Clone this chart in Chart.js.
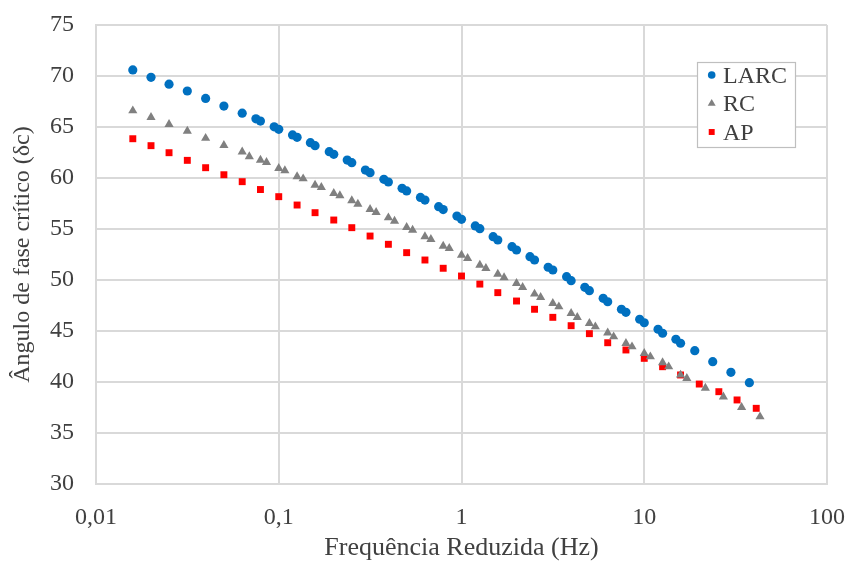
<!DOCTYPE html>
<html>
<head>
<meta charset="utf-8">
<script src="https://cdn.jsdelivr.net/npm/chart.js@4/dist/chart.umd.min.js"></script>
<style>
  html, body { margin: 0; padding: 0; background: #ffffff; }
  #wrap { position: relative; width: 846px; height: 561px; }
</style>
</head>
<body>
<div id="wrap"><canvas id="c"></canvas></div>
<script>
// ---- Data ----
const larcFreq = [0.0159, 0.02, 0.0251, 0.0316, 0.0398, 0.0501, 0.0631, 0.075, 0.0794, 0.0944, 0.1,
  0.119, 0.126, 0.149, 0.158, 0.189, 0.2, 0.237, 0.251, 0.298, 0.316, 0.376, 0.398, 0.473, 0.501,
  0.596, 0.631, 0.75, 0.794, 0.944, 1, 1.19, 1.26, 1.49, 1.58, 1.89, 2, 2.37, 2.51, 2.98, 3.16,
  3.76, 3.98, 4.73, 5.01, 5.96, 6.31, 7.5, 7.94, 9.44, 10, 11.9, 12.6, 14.9, 15.8, 18.9, 23.7, 29.8, 37.6];
const larcAngle = [70.6, 69.87, 69.2, 68.53, 67.8, 67.05, 66.36, 65.8, 65.58, 65.02, 64.77,
  64.22, 63.99, 63.46, 63.17, 62.58, 62.32, 61.76, 61.5, 60.78, 60.52, 59.87, 59.61, 58.99, 58.73,
  58.1, 57.84, 57.19, 56.9, 56.27, 55.95, 55.3, 55.03, 54.25, 53.92, 53.27, 52.94, 52.29, 51.96, 51.25, 50.98,
  50.33, 49.93, 49.28, 48.95, 48.2, 47.87, 47.13, 46.83, 46.15, 45.81, 45.17, 44.78, 44.19, 43.8, 43.07, 41.99, 40.95, 39.93];

const rcFreq = [0.0159, 0.02, 0.0251, 0.0316, 0.0398, 0.0501, 0.0631, 0.069, 0.0794, 0.0857, 0.1,
  0.108, 0.126, 0.136, 0.158, 0.171, 0.2, 0.216, 0.251, 0.271, 0.316, 0.341, 0.398, 0.43, 0.501,
  0.54, 0.631, 0.68, 0.794, 0.857, 1, 1.08, 1.26, 1.36, 1.58, 1.71, 2, 2.16, 2.51, 2.71, 3.16,
  3.41, 3.98, 4.3, 5.01, 5.4, 6.31, 6.8, 7.94, 8.57, 10, 10.8, 12.6, 13.6, 15.8, 17.1, 21.6, 27.1, 34.1, 43];
const rcAngle = [66.6, 65.95, 65.26, 64.6, 63.9, 63.2, 62.57, 62.1, 61.76, 61.53, 60.94,
  60.72, 60.13, 59.93, 59.31, 59.09, 58.5, 58.27, 57.78, 57.45, 56.93, 56.64, 56.11, 55.78, 55.17,
  54.9, 54.25, 53.99, 53.33, 53.1, 52.45, 52.13, 51.47, 51.15, 50.59, 50.23, 49.67, 49.28, 48.63, 48.3, 47.71,
  47.38, 46.73, 46.34, 45.75, 45.42, 44.83, 44.44, 43.79, 43.46, 42.81, 42.48, 41.9, 41.5, 40.69, 40.36, 39.4, 38.54, 37.52, 36.6];

const apFreq = [0.0159, 0.02, 0.0251, 0.0316, 0.0398, 0.0501, 0.0631, 0.0794, 0.1, 0.126, 0.158,
  0.2, 0.251, 0.316, 0.398, 0.501, 0.631, 0.794, 1, 1.26, 1.58, 2, 2.51, 3.16, 3.98, 5.01,
  6.31, 7.94, 10, 12.6, 15.8, 20, 25.6, 32.2, 41];
const apAngle = [63.85, 63.17, 62.48, 61.73, 61.01, 60.32, 59.64, 58.87, 58.17, 57.35, 56.6,
  55.88, 55.13, 54.31, 53.5, 52.68, 51.96, 51.15, 50.39, 49.6, 48.76, 47.94, 47.13, 46.34, 45.52, 44.74,
  43.85, 43.14, 42.32, 41.5, 40.69, 39.8, 39.05, 38.24, 37.42];

const seriesNames = ['LARC', 'RC', 'AP'];
const xTickValues = [0.01, 0.1, 1, 10, 100];
const xTickLabels = ['0,01', '0,1', '1', '10', '100'];
const yMin = 30, yMax = 75, yStep = 5;
const xTitle = 'Frequência Reduzida (Hz)';
const yTitle = 'Ângulo de fase crítico (δc)';

// ---- Build chart ----
const toPoints = (xs, ys) => xs.map((x, i) => ({ x: x, y: ys[i] }));
const FONT = "'Liberation Serif', 'Times New Roman', serif";
const TXT = '#404040';
const GRID = '#d9d9d9';

const legendPlugin = {
  id: 'boxLegend',
  afterDraw(chart) {
    const ctx = chart.ctx;
    const bx = 697.5, by = 62.5, bw = 98, bh = 85;
    ctx.save();
    ctx.fillStyle = '#ffffff';
    ctx.fillRect(bx, by, bw, bh);
    ctx.strokeStyle = '#bfbfbf';
    ctx.lineWidth = 1.2;
    ctx.strokeRect(bx, by, bw, bh);
    const rows = [75, 103.5, 132];
    const radii = [3.8, 4.6, 4.2];
    chart.data.datasets.forEach((ds, i) => {
      const y = rows[i];
      ctx.fillStyle = ds.backgroundColor;
      ctx.beginPath();
      const x = 711.7, r = radii[i];
      if (ds.pointStyle === 'circle') {
        ctx.arc(x, y, r, 0, Math.PI * 2);
      } else if (ds.pointStyle === 'triangle') {
        ctx.moveTo(x, y - r);
        ctx.lineTo(x + Math.sin(2 * Math.PI / 3) * r, y + 0.5 * r);
        ctx.lineTo(x - Math.sin(2 * Math.PI / 3) * r, y + 0.5 * r);
        ctx.closePath();
      } else {
        const s = r * Math.SQRT1_2;
        ctx.rect(x - s, y - s, 2 * s, 2 * s);
      }
      ctx.fill();
      ctx.fillStyle = TXT;
      ctx.font = '24px ' + FONT;
      ctx.textAlign = 'left';
      ctx.textBaseline = 'middle';
      ctx.fillText(ds.label, 723, y + 1.5);
    });
    ctx.restore();
  }
};

new Chart(document.getElementById('c'), {
  type: 'scatter',
  data: {
    datasets: [
      { label: seriesNames[0], data: toPoints(larcFreq, larcAngle), pointStyle: 'circle',
        backgroundColor: '#0070C0', borderWidth: 0, pointRadius: 4.6, pointHoverRadius: 4.6 },
      { label: seriesNames[1], data: toPoints(rcFreq, rcAngle), pointStyle: 'triangle',
        backgroundColor: '#808080', borderWidth: 0, pointRadius: 5.3, pointHoverRadius: 5.3 },
      { label: seriesNames[2], data: toPoints(apFreq, apAngle), pointStyle: 'rect',
        backgroundColor: '#FF0000', borderWidth: 0, pointRadius: 4.9, pointHoverRadius: 4.9 }
    ]
  },
  options: {
    responsive: true,
    maintainAspectRatio: false,
    animation: false,
    layout: { padding: { left: 0, right: 19, top: 25, bottom: 0 } },
    plugins: { legend: { display: false }, tooltip: { enabled: false } },
    scales: {
      x: {
        type: 'logarithmic',
        min: 0.01, max: 100,
        afterBuildTicks: (scale) => { scale.ticks = xTickValues.map(v => ({ value: v })); },
        afterFit: (scale) => { scale.height = 77; scale.paddingLeft = 0; scale.paddingRight = 0; },
        ticks: {
          autoSkip: false, maxRotation: 0, padding: 19,
          color: TXT, font: { family: FONT, size: 24 },
          callback: (v) => { const i = xTickValues.indexOf(v); return i >= 0 ? xTickLabels[i] : ''; }
        },
        grid: { color: GRID, lineWidth: 2, drawTicks: false },
        border: { color: GRID, width: 2 },
        title: { display: true, text: xTitle, color: TXT, font: { family: FONT, size: 26 },
                 padding: { top: 0, bottom: -3 } }
      },
      y: {
        min: yMin, max: yMax,
        afterFit: (scale) => { scale.width = 96; scale.paddingTop = 0; scale.paddingBottom = 0; },
        ticks: { stepSize: yStep, padding: 22, color: TXT, font: { family: FONT, size: 24 } },
        grid: { color: GRID, lineWidth: 2, drawTicks: false },
        border: { color: GRID, width: 2 },
        title: { display: true, text: yTitle, color: TXT, font: { family: FONT, size: 24 },
                 padding: { top: 8, bottom: 0 } }
      }
    }
  },
  plugins: [legendPlugin]
});
</script>
</body>
</html>
